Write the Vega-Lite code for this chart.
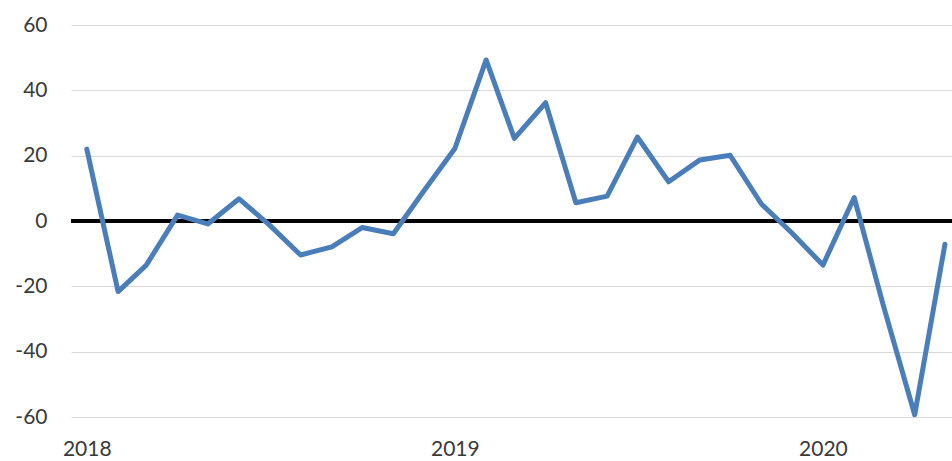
{
  "$schema": "https://vega.github.io/schema/vega-lite/v6.json",
  "width": 881,
  "height": 392,
  "autosize": {"type": "none"},
  "padding": {"left": 71, "top": 25, "right": 0, "bottom": 44},
  "background": "white",
  "config": {
    "view": {"stroke": null},
    "font": "Lato",
    "axis": {"labelFont": "Lato", "labelColor": "#3a3a3a", "labelFontSize": 21}
  },
  "data": {
    "values": [
      {"date": "2018-01-01", "value": 22},
      {"date": "2018-02-01", "value": -21.6},
      {"date": "2018-03-01", "value": -13.5},
      {"date": "2018-04-01", "value": 1.8},
      {"date": "2018-05-01", "value": -0.9},
      {"date": "2018-06-01", "value": 6.8},
      {"date": "2018-07-01", "value": -1.2},
      {"date": "2018-08-01", "value": -10.4},
      {"date": "2018-09-01", "value": -7.9},
      {"date": "2018-10-01", "value": -2},
      {"date": "2018-11-01", "value": -3.9},
      {"date": "2018-12-01", "value": 9.1},
      {"date": "2019-01-01", "value": 22.2},
      {"date": "2019-02-01", "value": 49.3},
      {"date": "2019-03-01", "value": 25.3},
      {"date": "2019-04-01", "value": 36.2},
      {"date": "2019-05-01", "value": 5.6},
      {"date": "2019-06-01", "value": 7.6},
      {"date": "2019-07-01", "value": 25.7},
      {"date": "2019-08-01", "value": 12},
      {"date": "2019-09-01", "value": 18.7},
      {"date": "2019-10-01", "value": 20.1},
      {"date": "2019-11-01", "value": 5.2},
      {"date": "2019-12-01", "value": -3.6},
      {"date": "2020-01-01", "value": -13.5},
      {"date": "2020-02-01", "value": 7.2},
      {"date": "2020-03-01", "value": -26},
      {"date": "2020-04-01", "value": -59.3},
      {"date": "2020-05-01", "value": -7.1}
    ]
  },
  "layer": [
    {
      "mark": {"type": "rule", "color": "#000000", "strokeWidth": 3.5},
      "encoding": {"y": {"datum": 0, "type": "quantitative"}}
    },
    {
      "mark": {"type": "line", "color": "#4a7ebb", "strokeWidth": 5, "strokeJoin": "round", "strokeCap": "round"},
      "encoding": {
        "x": {
          "field": "date",
          "type": "temporal",
          "scale": {
            "type": "utc",
            "domain": [
              {"year": 2017, "month": 12, "date": 16, "hours": 8, "utc": true},
              {"year": 2020, "month": 5, "date": 8, "utc": true}
            ]
          },
          "axis": {
            "title": null,
            "values": [
              {"year": 2018, "month": 1, "date": 1, "utc": true},
              {"year": 2019, "month": 1, "date": 1, "utc": true},
              {"year": 2020, "month": 1, "date": 1, "utc": true}
            ],
            "format": "%Y",
            "formatType": "utc",
            "domain": false,
            "ticks": false,
            "grid": false,
            "labelPadding": 21
          }
        },
        "y": {
          "field": "value",
          "type": "quantitative",
          "scale": {"domain": [-60, 60], "nice": false, "zero": false},
          "axis": {
            "title": null,
            "values": [-60, -40, -20, 0, 20, 40, 60],
            "labelExpr": "datum.value < 0 ? '-' + abs(datum.value) : '' + datum.value",
            "domain": false,
            "ticks": false,
            "grid": true,
            "gridColor": "#d9d9d9",
            "gridWidth": 1.2,
            "labelPadding": 24
          }
        }
      }
    }
  ]
}
